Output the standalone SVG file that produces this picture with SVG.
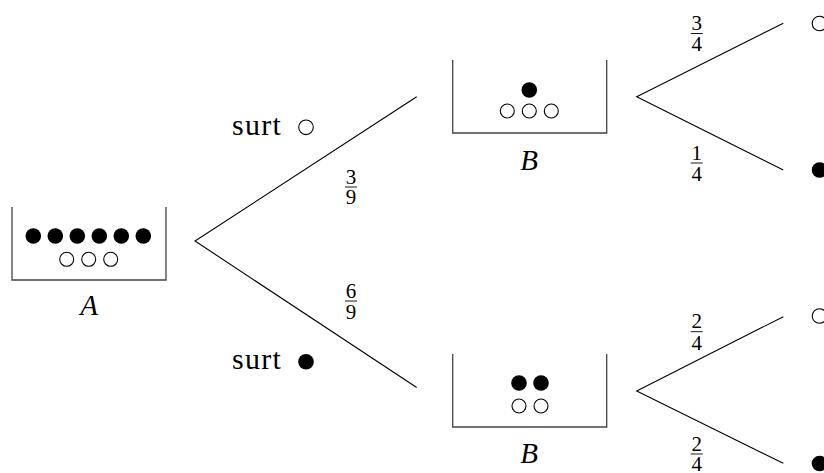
<svg xmlns="http://www.w3.org/2000/svg" width="824" height="473" viewBox="0 0 824 473">
<style>
.box{fill:none;stroke:#444;stroke-width:1.3}
.line{fill:none;stroke:#000;stroke-width:1.1}
.full{fill:#000}
.empty{fill:#fff;stroke:#000;stroke-width:1.1}
.lbl{font-family:"Liberation Serif","Times New Roman",serif;font-style:italic;font-size:29px;text-anchor:middle;fill:#000}
.txt{font-family:"Liberation Serif","Times New Roman",serif;font-size:30px;letter-spacing:1.3px;fill:#000}
.frac{font-family:"Liberation Serif","Times New Roman",serif;font-size:21px;text-anchor:middle;fill:#000}
.bar{stroke:#000;stroke-width:0.9}
</style>
<rect width="824" height="473" fill="#fff"/>

<g id="urnA">
<path class="box" d="M12,207 V280 H166 V207"/>
<circle class="full" cx="33.3" cy="236" r="7.8"/>
<circle class="full" cx="55.3" cy="236" r="7.8"/>
<circle class="full" cx="77.3" cy="236" r="7.8"/>
<circle class="full" cx="99.3" cy="236" r="7.8"/>
<circle class="full" cx="121.3" cy="236" r="7.8"/>
<circle class="full" cx="143.3" cy="236" r="7.8"/>
<circle class="empty" cx="66.7" cy="259.3" r="7"/>
<circle class="empty" cx="88.7" cy="259.3" r="7"/>
<circle class="empty" cx="110.7" cy="259.3" r="7"/>
<text class="lbl" x="89" y="315">A</text>
</g>

<g id="urnB1">
<path class="box" d="M452.7,60 V133 H606.7 V60"/>
<circle class="full" cx="529.3" cy="90" r="7.8"/>
<circle class="empty" cx="507.3" cy="111" r="7"/>
<circle class="empty" cx="529.3" cy="111" r="7"/>
<circle class="empty" cx="551.3" cy="111" r="7"/>
<text class="lbl" x="529" y="170">B</text>
</g>

<g id="urnB2">
<path class="box" d="M452.7,354 V427 H606.7 V354"/>
<circle class="full" cx="519" cy="383" r="7.8"/>
<circle class="full" cx="541" cy="383" r="7.8"/>
<circle class="empty" cx="519" cy="406" r="7"/>
<circle class="empty" cx="541" cy="406" r="7"/>
<text class="lbl" x="529" y="463">B</text>
</g>

<g id="leaf1"><circle class="empty" cx="819.5" cy="23.5" r="7.3"/></g>
<g id="leaf2"><circle class="full" cx="819.5" cy="170" r="7.8"/></g>
<g id="leaf3"><circle class="empty" cx="819.5" cy="316" r="7.3"/></g>
<g id="leaf4"><circle class="full" cx="819.5" cy="463.5" r="7.8"/></g>

<g id="labelWhite">
<text class="txt" x="232" y="135">surt</text>
<circle class="empty" cx="306" cy="127.3" r="7.3"/>
</g>
<g id="labelBlack">
<text class="txt" x="232" y="369">surt</text>
<circle class="full" cx="306" cy="361.7" r="7.8"/>
</g>

<g id="connectors">
<path class="line" d="M416.7,96.7 L195,241 L416.7,387.5"/>
<path class="line" d="M783.3,23.3 L636.7,96.7 L783.3,170"/>
<path class="line" d="M783.3,316.7 L636.7,391 L783.3,463.3"/>
</g>

<g id="fractions">
<text class="frac" x="351" y="183.5">3</text>
<line class="bar" x1="345" y1="187" x2="357" y2="187"/>
<text class="frac" x="351" y="204">9</text>

<text class="frac" x="351" y="297.5">6</text>
<line class="bar" x1="345" y1="301" x2="357" y2="301"/>
<text class="frac" x="351" y="319">9</text>

<text class="frac" x="696.7" y="30">3</text>
<line class="bar" x1="690.7" y1="33.5" x2="702.7" y2="33.5"/>
<text class="frac" x="696.7" y="51">4</text>

<text class="frac" x="696.7" y="159.5">1</text>
<line class="bar" x1="690.7" y1="163" x2="702.7" y2="163"/>
<text class="frac" x="696.7" y="181">4</text>

<text class="frac" x="696.7" y="328">2</text>
<line class="bar" x1="690.7" y1="331.7" x2="702.7" y2="331.7"/>
<text class="frac" x="696.7" y="349.5">4</text>

<text class="frac" x="696.7" y="450.5">2</text>
<line class="bar" x1="690.7" y1="454" x2="702.7" y2="454"/>
<text class="frac" x="696.7" y="471">4</text>
</g>
</svg>
